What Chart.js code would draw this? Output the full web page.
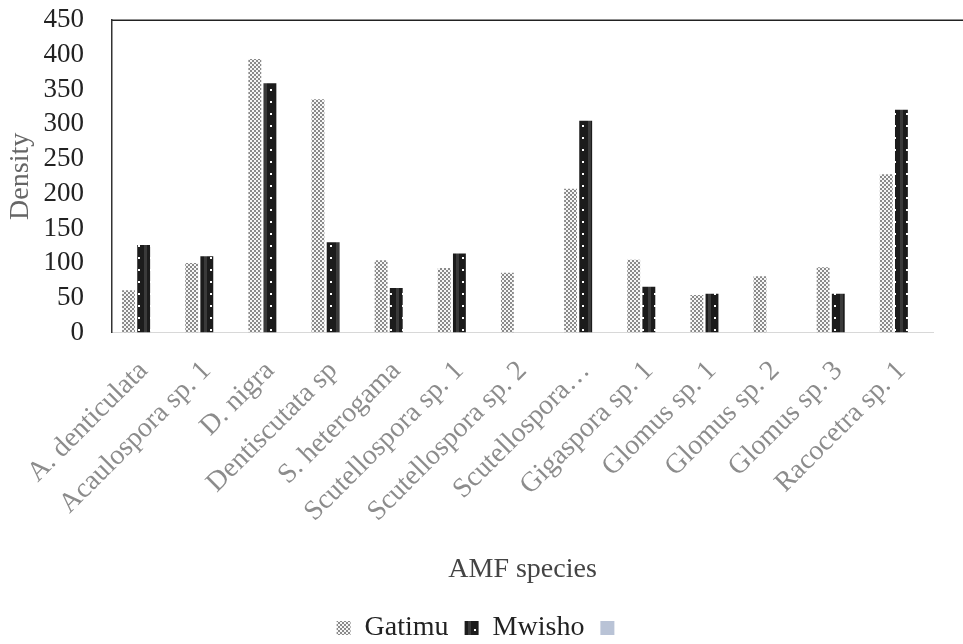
<!DOCTYPE html>
<html>
<head>
<meta charset="utf-8">
<script src="https://cdn.jsdelivr.net/npm/chart.js@4.4.0/dist/chart.umd.min.js"></script>
<style>
  html, body { margin: 0; padding: 0; background: #fff; }
  #wrap { width: 963px; height: 644px; }
</style>
</head>
<body>
<div id="wrap"><canvas id="amfChart"></canvas></div>
<script>
const species = ['A. denticulata', 'Acaulospora sp. 1', 'D. nigra', 'Dentiscutata sp', 'S. heterogama',
    'Scutellospora sp. 1', 'Scutellospora sp. 2', 'Scutellospora…', 'Gigaspora sp. 1', 'Glomus sp. 1',
    'Glomus sp. 2', 'Glomus sp. 3', 'Racocetra sp. 1'];
const gatimu = [61, 100, 394, 336, 104, 93, 86, 207, 105, 54, 81, 94, 228];
const mwisho = [126, 110, 359, 130, 64, 114, 0, 305, 66, 56, 0, 56, 321];
const third = [0, 0, 0, 0, 0, 0, 0, 0, 0, 0, 0, 0, 0];
const yTicks = [0, 50, 100, 150, 200, 250, 300, 350, 400, 450];

// small hatch tiles like the scanned Excel fills
function makePattern(size, draw) {
    const c = document.createElement('canvas');
    c.width = size; c.height = size;
    draw(c.getContext('2d'));
    return c.getContext('2d').createPattern(c, 'repeat');
}
const checker = makePattern(4, g => {
    g.fillStyle = '#f6f6f6'; g.fillRect(0, 0, 4, 4);
    g.fillStyle = '#8a8a8a';
    g.fillRect(0, 0, 2, 2); g.fillRect(2, 2, 2, 2);
});
const darkDots = makePattern(12, g => {
    g.fillStyle = '#1c1c1c'; g.fillRect(0, 0, 12, 12);
    g.fillStyle = '#3a3a3a'; g.fillRect(0, 0, 3, 12);
    g.fillStyle = '#ffffff'; g.fillRect(6, 5, 2, 2);
});

// the frame line at 450 runs on to the right edge of the picture
const topLine = {
    id: 'topLine',
    afterDraw(chart) {
        const { ctx, chartArea, scales } = chart;
        const y = scales.y.getPixelForValue(450);
        ctx.save();
        ctx.strokeStyle = '#222';
        ctx.lineWidth = 1.5;
        ctx.beginPath();
        ctx.moveTo(chartArea.left, y);
        ctx.lineTo(chart.width, y);
        ctx.stroke();
        ctx.restore();
    }
};

new Chart(document.getElementById('amfChart'), {
    type: 'bar',
    data: {
        labels: species,
        datasets: [
            { label: 'Gatimu', data: gatimu, backgroundColor: checker },
            { label: 'Mwisho', data: mwisho, backgroundColor: darkDots },
            { label: '', data: third, backgroundColor: '#b9c3d6' }
        ]
    },
    options: {
        responsive: true,
        maintainAspectRatio: false,
        animation: false,
        layout: { padding: { left: 2, right: 0, top: -2, bottom: -8 } },
        datasets: { bar: { categoryPercentage: 0.72, barPercentage: 0.85 } },
        plugins: {
            legend: {
                position: 'bottom',
                labels: {
                    font: { family: 'Liberation Serif', size: 28 },
                    color: '#222',
                    boxWidth: 14, boxHeight: 14,
                    padding: 16
                }
            },
            tooltip: { enabled: false }
        },
        scales: {
            x: {
                grid: { display: false },
                border: { color: '#d8d8d8' },
                ticks: {
                    maxRotation: 45, minRotation: 45,
                    autoSkip: false,
                    color: '#8c8c8c',
                    padding: 14,
                    font: { family: 'Liberation Serif', size: 28 }
                },
                title: {
                    display: true, text: 'AMF species',
                    color: '#444',
                    font: { family: 'Liberation Serif', size: 28 },
                    padding: { top: 10, bottom: 12 }
                }
            },
            y: {
                min: 0, max: 450,
                afterBuildTicks: axis => { axis.ticks = yTicks.map(v => ({ value: v })); },
                grid: { display: false, drawTicks: true, tickLength: 24 },
                border: { color: '#333', width: 1.5 },
                ticks: {
                    autoSkip: false,
                    color: '#222',
                    padding: 4,
                    font: { family: 'Liberation Serif', size: 27 }
                },
                title: {
                    display: true, text: 'Density',
                    color: '#666',
                    font: { family: 'Liberation Serif', size: 28 },
                    padding: { top: 2, bottom: 2 }
                }
            },
            // empty strip on the right so the bars stop short of the edge
            pad: {
                type: 'linear', position: 'right', display: true,
                grid: { display: false }, border: { display: false },
                ticks: { display: false },
                afterFit: s => { s.width = 30; }
            }
        }
    },
    plugins: [topLine]
});
</script>
</body>
</html>
